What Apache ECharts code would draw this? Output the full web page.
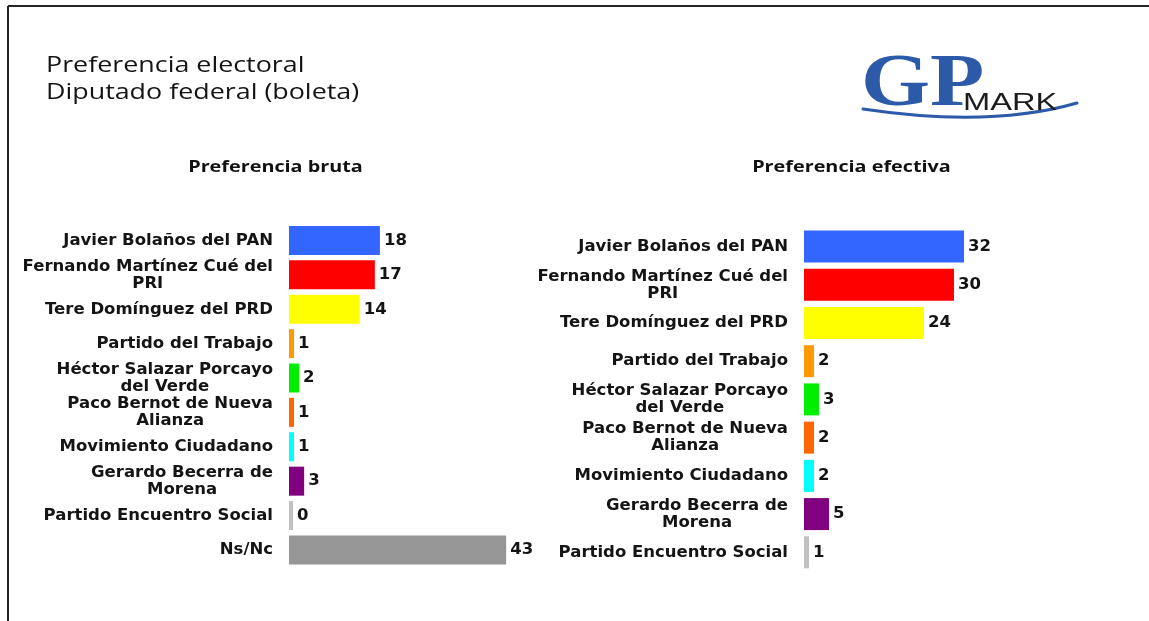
<!DOCTYPE html>
<html>
<head>
<meta charset="utf-8">
<title>Preferencia electoral - Diputado federal (boleta)</title>
<script src="https://cdn.jsdelivr.net/npm/echarts@6/dist/echarts.min.js"></script>
<style>
  html, body { margin: 0; padding: 0; background: #fff; }
  #grafica { width: 1149px; height: 621px; }
</style>
</head>
<body>
<div id="grafica"></div>
<script>
// datos de la lamina
var categoriasBruta = [
  'Javier Bolaños del PAN',
  'Fernando Martínez Cué del\nPRI',
  'Tere Domínguez del PRD',
  'Partido del Trabajo',
  'Héctor Salazar Porcayo\ndel Verde',
  'Paco Bernot de Nueva\nAlianza',
  'Movimiento Ciudadano',
  'Gerardo Becerra de\nMorena',
  'Partido Encuentro Social',
  'Ns/Nc'
];
var valoresBruta = [18, 17, 14, 1, 2, 1, 1, 3, 0, 43];

var categoriasEfectiva = categoriasBruta.slice(0, 9);
var valoresEfectiva = [32, 30, 24, 2, 3, 2, 2, 5, 1];

var colores = ['#3366ff', '#ff0000', '#ffff00', '#ff9900', '#00ee00',
               '#ff6600', '#00ffff', '#800080', '#c0c0c0', '#969696'];

var fuenteEtiqueta = 'DejaVu Sans';

var dom = document.getElementById('grafica');
var myChart = echarts.init(dom);

function barras(valores) {
  return valores.map(function (v, i) {
    return { value: v, itemStyle: { color: colores[i] } };
  });
}

function ejeCategorias(cats, idx) {
  return {
    type: 'category',
    gridIndex: idx,
    data: cats,
    inverse: true,
    axisLine: { show: false },
    axisTick: { show: false },
    splitLine: { show: false },
    axisLabel: {
      margin: 16,
      formatter: function (value) {
        return value.split('\n').map(function (l) { return '{c|' + l + '}'; }).join('\n');
      },
      rich: {
        c: {
          align: 'center',
          fontFamily: fuenteEtiqueta,
          fontWeight: 'bold',
          fontSize: 16.5,
          lineHeight: 17,
          color: '#141414'
        }
      }
    }
  };
}

function ejeValores(idx) {
  return {
    type: 'value',
    gridIndex: idx,
    min: 0,
    max: 50,
    show: false
  };
}

var etiquetaValor = {
  show: true,
  position: 'right',
  distance: 4,
  fontFamily: fuenteEtiqueta,
  fontWeight: 'bold',
  fontSize: 16.5,
  color: '#141414'
};

var option = {
  animation: false,
  backgroundColor: '#ffffff',
  grid: [
    { left: 289, top: 223.3, width: 252.5, height: 343.8 },
    { left: 804, top: 227.4, width: 250, height: 344 }
  ],
  xAxis: [ejeValores(0), ejeValores(1)],
  yAxis: [ejeCategorias(categoriasBruta, 0), ejeCategorias(categoriasEfectiva, 1)],
  series: [
    {
      name: 'Preferencia bruta',
      type: 'bar',
      xAxisIndex: 0,
      yAxisIndex: 0,
      barWidth: 29,
      barMinHeight: 4,
      data: barras(valoresBruta),
      label: etiquetaValor
    },
    {
      name: 'Preferencia efectiva',
      type: 'bar',
      xAxisIndex: 1,
      yAxisIndex: 1,
      barWidth: 32,
      data: barras(valoresEfectiva),
      label: etiquetaValor
    }
  ],
  graphic: [
    // marco
    { type: 'line', shape: { x1: 8, y1: 6, x2: 1149, y2: 6 }, style: { stroke: '#262626', lineWidth: 2 } },
    { type: 'line', shape: { x1: 8, y1: 6, x2: 8, y2: 621 }, style: { stroke: '#262626', lineWidth: 2 } },
    // titulo
    {
      type: 'text', x: 46, y: 65.5, scaleX: 1.22,
      style: { text: 'Preferencia electoral', font: '22px "Open Sans"', fill: '#141414', align: 'left', verticalAlign: 'middle' }
    },
    {
      type: 'text', x: 46, y: 92.5, scaleX: 1.22,
      style: { text: 'Diputado federal (boleta)', font: '22px "Open Sans"', fill: '#141414', align: 'left', verticalAlign: 'middle' }
    },
    {
      type: 'text', x: 275.5, y: 167.4, scaleX: 1.2,
      style: { text: 'Preferencia bruta', font: 'bold 16.5px "Open Sans"', fill: '#111', align: 'center', verticalAlign: 'middle' }
    },
    {
      type: 'text', x: 851.5, y: 167.4, scaleX: 1.2,
      style: { text: 'Preferencia efectiva', font: 'bold 16.5px "Open Sans"', fill: '#111', align: 'center', verticalAlign: 'middle' }
    },
    // logo GP MARK
    {
      type: 'bezierCurve',
      shape: { x1: 863, y1: 109, x2: 1077, y2: 103, cpx1: 990, cpy1: 128 },
      style: { stroke: '#2c5aa8', lineWidth: 3, fill: null, lineCap: 'round' }
    },
    {
      type: 'text', x: 861, y: 86, scaleX: 1.2,
      style: { text: 'GP', font: 'bold 74px "Liberation Serif"', fill: '#2c5aa8', align: 'left', verticalAlign: 'middle' }
    },
    {
      type: 'text', x: 963, y: 103.5, scaleX: 1.42,
      style: { text: 'MARK', font: '23px "Liberation Sans"', fill: '#1c1c1c', align: 'left', verticalAlign: 'middle' }
    }
  ]
};

if (option && typeof option === 'object') {
  myChart.setOption(option);
}
</script>
</body>
</html>
